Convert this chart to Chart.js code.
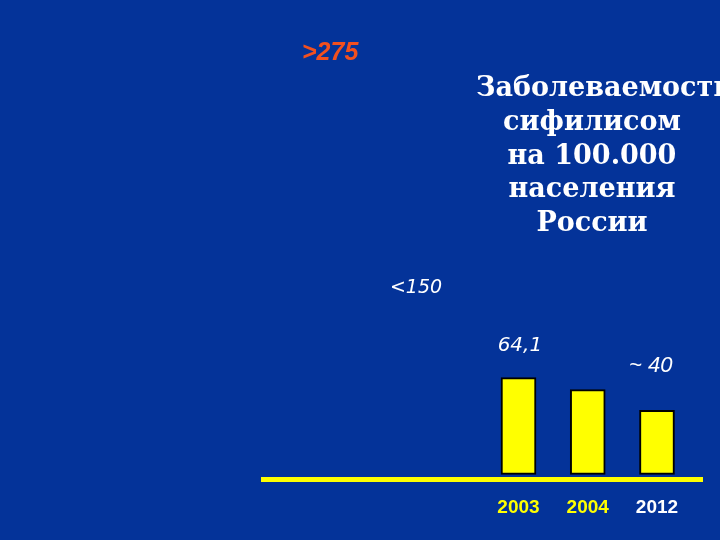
<!DOCTYPE html>
<html><head><meta charset="utf-8">
<script src="https://cdn.jsdelivr.net/npm/chart.js@4"></script>
<style>html,body{margin:0;padding:0;background:#043399;overflow:hidden}</style>
</head><body>
<canvas id="c" width="720" height="540"></canvas>
<script>
// ---- data ----
const categories = ['2003', '2004', '2012'];
const values = [64.1, 56.2, 42.5];
const earlierLabels = ['>275', '<150'];
const valueLabels = ['64,1', '~ 40'];
const titleLines = ['Заболеваемость', 'сифилисом', 'на 100.000', 'населения', 'России'];

const BG = '#043399';

const bgPlugin = {
  id: 'bg',
  beforeDraw(chart) {
    const ctx = chart.ctx;
    ctx.save();
    ctx.fillStyle = BG;
    ctx.fillRect(0, 0, chart.width, chart.height);
    ctx.restore();
  }
};

const textPlugin = {
  id: 'texts',
  afterDraw(chart) {
    const ctx = chart.ctx, xs = chart.scales.x, ys = chart.scales.y;
    ctx.save();
    ctx.textAlign = 'center';
    ctx.textBaseline = 'alphabetic';
    // earlier-period labels
    ctx.fillStyle = '#f2501f';
    ctx.font = 'italic bold 25px "Liberation Sans", Arial, sans-serif';
    ctx.fillText(earlierLabels[0], xs.getPixelForValue(-2.72), ys.getPixelForValue(274));
    ctx.fillStyle = '#ffffff';
    ctx.font = 'italic 19px "DejaVu Sans", sans-serif';
    ctx.fillText(earlierLabels[1], xs.getPixelForValue(-1.48), ys.getPixelForValue(120));
    ctx.font = 'italic 20px "DejaVu Sans", sans-serif';
    ctx.fillText(valueLabels[0], xs.getPixelForValue(0.02), ys.getPixelForValue(82));
    ctx.font = 'italic 22px "Liberation Sans", Arial, sans-serif';
    ctx.fillText(valueLabels[1], xs.getPixelForValue(1.91), ys.getPixelForValue(68));
    // title block
    ctx.fillStyle = '#ffffff';
    ctx.font = 'bold 27px "DejaVu Serif", serif';
    const baselines = [96, 130, 164, 197, 231];
    titleLines.forEach((t, i) => {
      if (i === 0) { ctx.textAlign = 'left'; ctx.fillText(t, 476, baselines[i]); }
      else { ctx.textAlign = 'center'; ctx.fillText(t, 592, baselines[i]); }
    });
    ctx.restore();
  }
};

new Chart(document.getElementById('c'), {
  type: 'bar',
  data: {
    datasets: [{
      data: values.map((v, i) => ({ x: i, y: v })),
      backgroundColor: '#ffff00',
      borderColor: '#000000',
      borderWidth: 2,
      borderSkipped: false,
      barThickness: 35
    }]
  },
  options: {
    responsive: false,
    animation: false,
    layout: { padding: { top: 21, left: 263, right: 18, bottom: 0 } },
    plugins: { legend: { display: false }, tooltip: { enabled: false }, title: { display: false } },
    scales: {
      x: {
        type: 'linear',
        offset: false,
        min: -3.69,
        max: 2.65,
        grid: { display: false, drawTicks: false, offset: false },
        border: { display: true, color: '#ffff00', width: 5 },
        afterBuildTicks(scale) { scale.ticks = categories.map((c, i) => ({ value: i })); },
        afterFit(scale) { scale.height = 61; },
        ticks: {
          autoSkip: false,
          maxRotation: 0,
          padding: 17,
          font: { family: '"Liberation Sans", Arial, sans-serif', size: 19, weight: 'bold' },
          color: (ctx) => (ctx.index === 2 ? '#ffffff' : '#ffff00'),
          callback: (v) => categories[v] ?? ''
        }
      },
      y: {
        display: false,
        min: -3,
        max: 300
      }
    }
  },
  plugins: [bgPlugin, textPlugin]
});
</script>
</body></html>
